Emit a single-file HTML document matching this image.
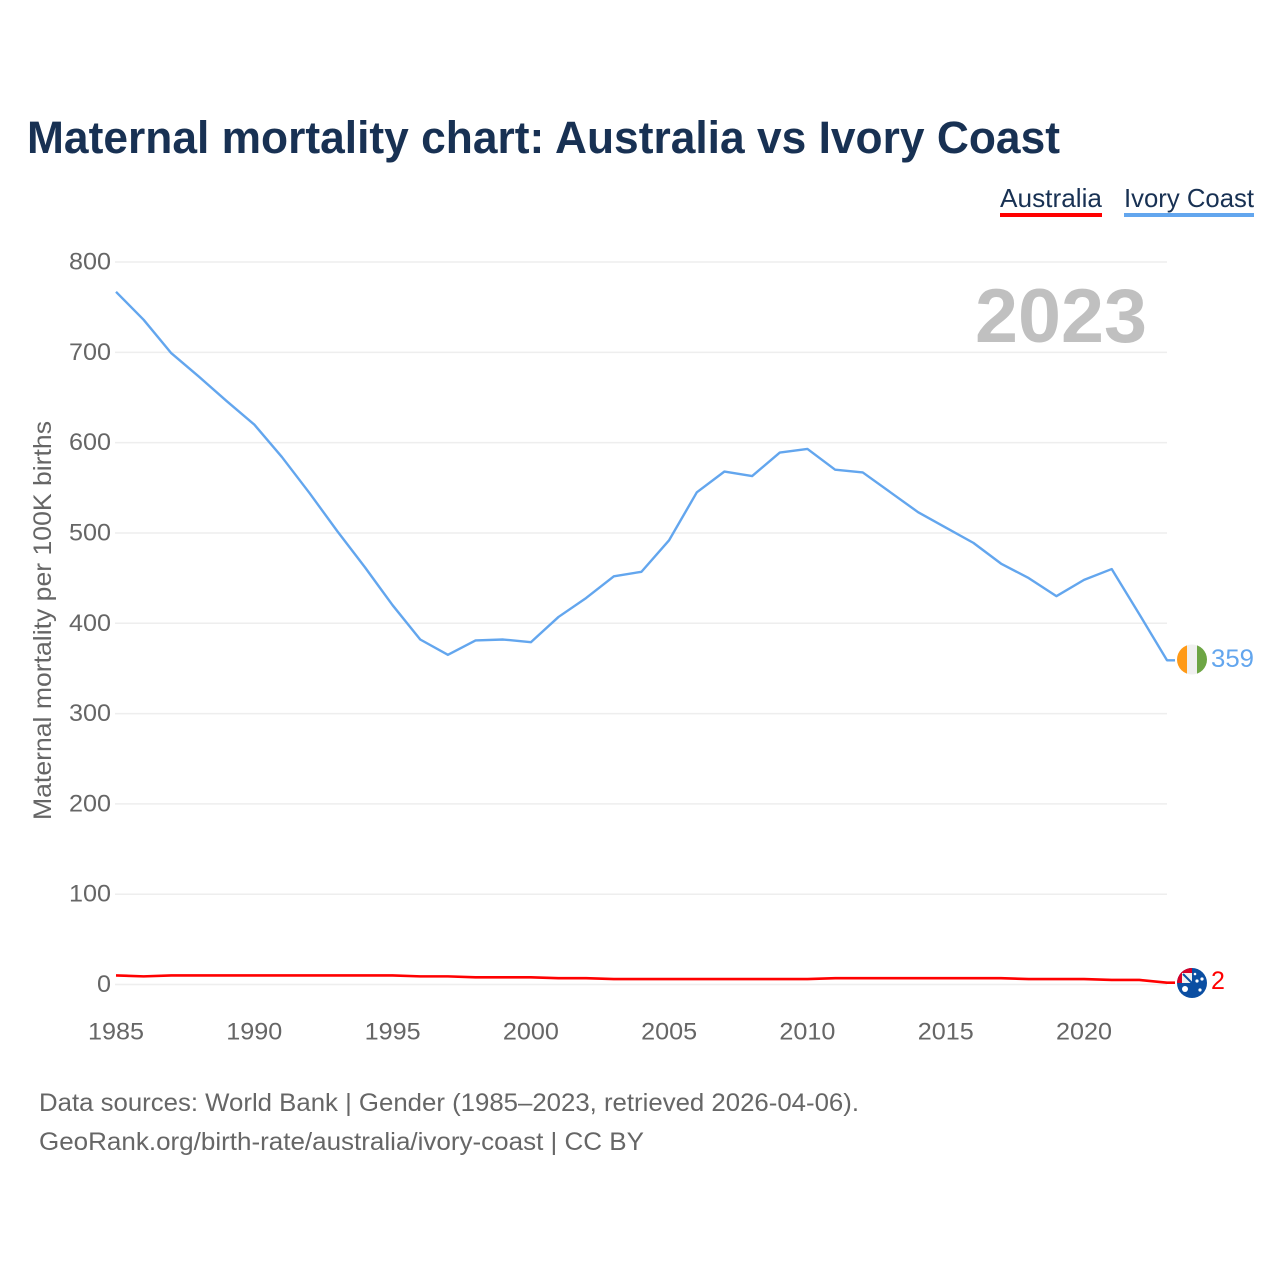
<!DOCTYPE html>
<html lang="en">
<head>
<meta charset="utf-8">
<title>Maternal mortality chart: Australia vs Ivory Coast</title>
<style>
html,body{margin:0;padding:0;background:#fff;width:1280px;height:1280px;overflow:hidden}
svg{display:block;font-family:"Liberation Sans",sans-serif}
</style>
</head>
<body>
<svg id="chart" xmlns="http://www.w3.org/2000/svg" width="1280" height="1280" viewBox="0 0 1280 1280">
  <defs>
    <clipPath id="flag-ci"><circle cx="1192" cy="659.5" r="15"/></clipPath>
    <clipPath id="flag-au"><circle cx="1192" cy="983" r="15"/></clipPath>
  </defs>
  <rect x="0" y="0" width="1280" height="1280" fill="#fff"/>
  <text x="27" y="153" font-size="45" font-weight="700" fill="#183153" textLength="1033" lengthAdjust="spacingAndGlyphs">Maternal mortality chart: Australia vs Ivory Coast</text>

  <g>
    <text x="1000" y="207" font-size="26" fill="#183153" textLength="102" lengthAdjust="spacingAndGlyphs">Australia</text>
    <rect x="1000" y="213" width="102" height="4" fill="#ff0000"/>
  </g>
  <g>
    <text x="1124" y="207" font-size="26" fill="#183153" textLength="130" lengthAdjust="spacingAndGlyphs">Ivory Coast</text>
    <rect x="1124" y="213" width="130" height="4" fill="#63a6ee"/>
  </g>

  <g id="grid"></g>
  <g id="yticks"></g>
  <g id="xticks"></g>
  <text transform="translate(51,820) rotate(-90)" font-size="25" fill="#666" textLength="399" lengthAdjust="spacingAndGlyphs">Maternal mortality per 100K births</text>

  <text x="1147" y="342" text-anchor="end" font-size="76" font-weight="700" fill="#c0c0c0" textLength="172" lengthAdjust="spacingAndGlyphs">2023</text>

  <path id="line-ci" fill="none" stroke="#63a6ee" stroke-width="2.4" stroke-linejoin="round"/>
  <path id="line-au" fill="none" stroke="#ff0000" stroke-width="2.6" stroke-linejoin="round"/>

  <g clip-path="url(#flag-ci)">
    <rect x="1177" y="644" width="10" height="31" fill="#ff9a17"/>
    <rect x="1187" y="644" width="10" height="31" fill="#f0f0f0"/>
    <rect x="1197" y="644" width="10" height="31" fill="#6da544"/>
  </g>
  <text id="value-ci" x="1211" y="667" font-size="25" fill="#63a6ee" textLength="43" lengthAdjust="spacingAndGlyphs"></text>

  <g clip-path="url(#flag-au)">
    <rect x="1177" y="968" width="30" height="30" fill="#0b4ea2"/>
    <rect x="1177" y="968" width="15" height="15" fill="#d80027"/>
    <rect x="1182" y="973" width="10" height="10" fill="#f0f0f0"/>
    <path d="M1183 974L1192 983" stroke="#0b4ea2" stroke-width="2"/>
    <circle cx="1185" cy="989" r="3" fill="#fff"/>
    <circle cx="1197" cy="981" r="1.600" fill="#fff"/>
    <circle cx="1202" cy="979" r="1.600" fill="#fff"/>
    <circle cx="1195" cy="974" r="1.300" fill="#fff"/>
    <circle cx="1200" cy="990" r="1.600" fill="#fff"/>
  </g>
  <text id="value-au" x="1211" y="989" font-size="25" fill="#ff0000"></text>

  <text x="39" y="1111" font-size="25" fill="#666" textLength="820" lengthAdjust="spacingAndGlyphs">Data sources: World Bank | Gender (1985–2023, retrieved 2026-04-06).</text>
  <text x="39" y="1150" font-size="25" fill="#666" textLength="605" lengthAdjust="spacingAndGlyphs">GeoRank.org/birth-rate/australia/ivory-coast | CC BY</text>
</svg>
<script>
const years = [1985,1986,1987,1988,1989,1990,1991,1992,1993,1994,1995,1996,1997,1998,1999,2000,2001,2002,2003,2004,2005,2006,2007,2008,2009,2010,2011,2012,2013,2014,2015,2016,2017,2018,2019,2020,2021,2022,2023];
const ivoryCoast = [767,736,699,673,646,620,584,544,502,462,420,382,365,381,382,379,407,428,452,457,492,545,568,563,589,593,570,567,545,523,506,489,466,450,430,448,460,410,359];
const australia = [10,9,10,10,10,10,10,10,10,10,10,9,9,8,8,8,7,7,6,6,6,6,6,6,6,6,7,7,7,7,7,7,7,6,6,6,5,5,2];
const yTickValues = [0,100,200,300,400,500,600,700,800];
const xTickValues = [1985,1990,1995,2000,2005,2010,2015,2020];

const SVG_NS = 'http://www.w3.org/2000/svg';
const plotLeft = 116, plotRight = 1167, plotTop = 262, plotBottom = 984.5;
const xDomain = [1985, 2023], yDomain = [0, 800];
function xScale(v){ return plotLeft + (v - xDomain[0]) / (xDomain[1] - xDomain[0]) * (plotRight - plotLeft); }
function yScale(v){ return plotBottom - (v - yDomain[0]) / (yDomain[1] - yDomain[0]) * (plotBottom - plotTop); }

const gridGroup = document.getElementById('grid');
const yGroup = document.getElementById('yticks');
const xGroup = document.getElementById('xticks');

yTickValues.forEach(function(t){
  const g = document.createElementNS(SVG_NS, 'line');
  
  
  g.setAttribute('x1', plotLeft - 1);
  g.setAttribute('x2', plotRight);
  g.setAttribute('y1', yScale(t));
  g.setAttribute('y2', yScale(t));
  g.setAttribute('stroke', '#eeeeee');
  g.setAttribute('stroke-width', '1.5');
  gridGroup.appendChild(g);

  const s = String(t);
  const l = document.createElementNS(SVG_NS, 'text');
  
  
  l.setAttribute('x', 111);
  l.setAttribute('y', yScale(t) + 7.5);
  l.setAttribute('text-anchor', 'end');
  l.setAttribute('font-size', '24.5');
  l.setAttribute('fill', '#666');
  l.setAttribute('textLength', s.length * 14);
  l.setAttribute('lengthAdjust', 'spacingAndGlyphs');
  l.textContent = s;
  yGroup.appendChild(l);
});

xTickValues.forEach(function(t){
  const l = document.createElementNS(SVG_NS, 'text');
  
  
  l.setAttribute('x', xScale(t));
  l.setAttribute('y', 1039.5);
  l.setAttribute('text-anchor', 'middle');
  l.setAttribute('font-size', '24.5');
  l.setAttribute('fill', '#666');
  l.setAttribute('textLength', '56');
  l.setAttribute('lengthAdjust', 'spacingAndGlyphs');
  l.textContent = String(t);
  xGroup.appendChild(l);
});

function linePath(values){
  let d = values.map(function(v, i){
    return (i ? 'L' : 'M') + xScale(years[i]).toFixed(2) + ' ' + yScale(v).toFixed(2);
  }).join('');
  d += 'L' + (plotRight + 8) + ' ' + yScale(values[values.length - 1]).toFixed(2);
  return d;
}
document.getElementById('line-ci').setAttribute('d', linePath(ivoryCoast));
document.getElementById('line-au').setAttribute('d', linePath(australia));
document.getElementById('value-ci').textContent = String(ivoryCoast[ivoryCoast.length - 1]);
document.getElementById('value-au').textContent = String(australia[australia.length - 1]);
</script>
</body>
</html>
